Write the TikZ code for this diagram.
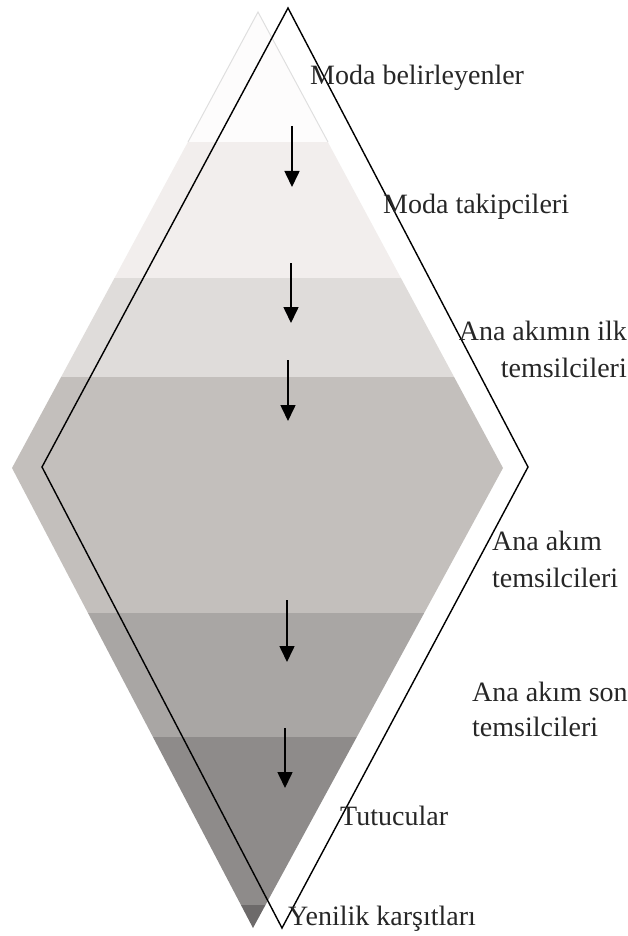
\documentclass[tikz,border=0pt]{standalone}
\usepackage{fontspec}
\setmainfont{Liberation Serif}
\usetikzlibrary{arrows.meta}
\definecolor{bandA}{HTML}{FDFCFC}
\definecolor{bandB}{HTML}{F2EEED}
\definecolor{bandC}{HTML}{DFDCDA}
\definecolor{bandD}{HTML}{C3BFBC}
\definecolor{bandE}{HTML}{A9A6A4}
\definecolor{bandF}{HTML}{8E8B8A}
\definecolor{bandG}{HTML}{6D6A6A}
\begin{document}
\begin{tikzpicture}[
    x=1pt, y=-1pt,
    label/.style={inner sep=0pt, font=\fontsize{28}{37}\selectfont, text=black!85},
    arrow/.style={-{Triangle[length=16pt,width=15pt]}, line width=1.6pt},
    outline/.style={line width=1.4pt, line join=miter}
]
\useasboundingbox (0,0) rectangle (628,936);

\coordinate (gtop) at (258,12);
\coordinate (gright) at (503,468);
\coordinate (gbottom) at (253,928);
\coordinate (gleft) at (12,468);

\begin{scope}
  \clip (gtop) -- (gright) -- (gbottom) -- (gleft) -- cycle;
  \fill[bandA] (0,0) rectangle (628,142);
  \fill[bandB] (0,142) rectangle (628,278);
  \fill[bandC] (0,278) rectangle (628,377);
  \fill[bandD] (0,377) rectangle (628,613);
  \fill[bandE] (0,613) rectangle (628,737);
  \fill[bandF] (0,737) rectangle (628,905);
  \fill[bandG] (0,905) rectangle (628,936);
\end{scope}
\draw[gray!25, line width=1pt] (188,142) -- (gtop) -- (328,142);

\coordinate (otop) at (288,8);
\coordinate (oright) at (528,467);
\coordinate (obottom) at (282,928);
\coordinate (oleft) at (42,467);
\draw[outline] (otop) -- (oright) -- (obottom) -- (oleft) -- cycle;

\coordinate (s1) at (292,126); \coordinate (e1) at (292,187);
\coordinate (s2) at (291,263); \coordinate (e2) at (291,323);
\coordinate (s3) at (288,360); \coordinate (e3) at (288,421);
\coordinate (s4) at (287,600); \coordinate (e4) at (287,662);
\coordinate (s5) at (285,728); \coordinate (e5) at (285,788);
\draw[arrow] (s1) -- (e1);
\draw[arrow] (s2) -- (e2);
\draw[arrow] (s3) -- (e3);
\draw[arrow] (s4) -- (e4);
\draw[arrow] (s5) -- (e5);

\node[label, anchor=base west] (belirleyen) at (310,85) {Moda belirleyenler};
\node[label, anchor=base west] (takipci) at (383,213) {Moda takipcileri};
\node[label, anchor=base east, align=right] (ilk) at (627,377) {Ana akımın ilk\\temsilcileri};
\node[label, anchor=base west, align=left] (anaakim) at (492,587) {Ana akım\\temsilcileri};
\node[label, anchor=base west, align=left, font=\fontsize{28}{35}\selectfont] (son) at (472,736) {Ana akım son\\temsilcileri};
\node[label, anchor=base west] (tutucu) at (340,825) {Tutucular};
\node[label, anchor=base west] (karsit) at (288,925) {Yenilik karşıtları};
\end{tikzpicture}
\end{document}
